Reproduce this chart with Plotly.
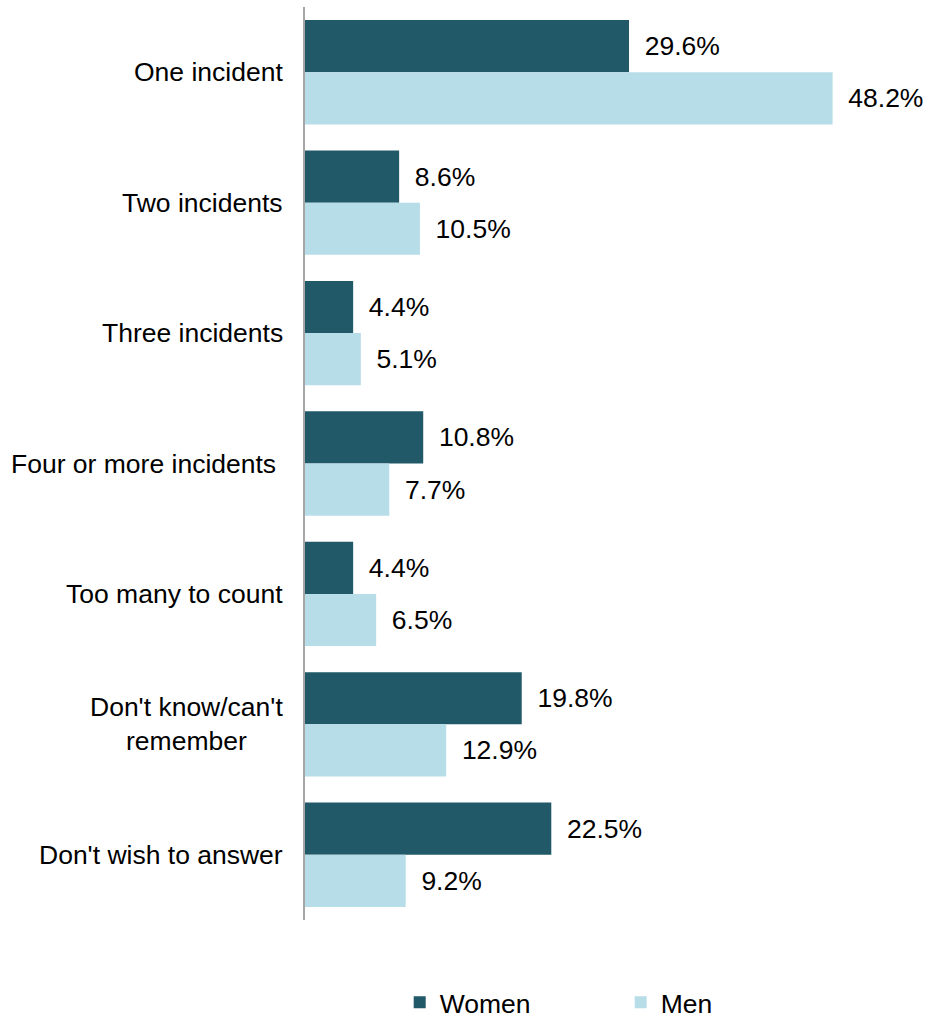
import plotly.graph_objects as go

categories = [
    "One incident",
    "Two incidents",
    "Three incidents",
    "Four or more incidents\u00a0",
    "Too many to count",
    "Don't know/can't<br>remember",
    "Don't wish to answer",
]
women = [29.6, 8.6, 4.4, 10.8, 4.4, 19.8, 22.5]
men = [48.2, 10.5, 5.1, 7.7, 6.5, 12.9, 9.2]

FONT = "Liberation Sans, Arial, sans-serif"
FS = 26.5

fig = go.Figure()
for name, vals, color in [("Women", women, "#215968"), ("Men", men, "#B7DEE8")]:
    fig.add_trace(go.Bar(
        name=name,
        y=categories,
        x=vals,
        orientation="h",
        marker=dict(color=color, line=dict(width=0)),
        text=[f"\u00a0\u2009{v:.1f}%" for v in vals],
        textposition="outside",
        constraintext="none",
        cliponaxis=False,
        textfont=dict(family=FONT, size=FS, color="#000000"),
    ))

# category labels as centred multi-line annotations left of the axis
for c in categories:
    fig.add_annotation(
        x=0, xref="paper", y=c, yref="y",
        text=c, showarrow=False,
        xanchor="right", yanchor="middle", align="center",
        xshift=-20,
        font=dict(family=FONT, size=FS, color="#000000"),
    )

fig.update_layout(
    width=927,
    height=1021,
    margin=dict(l=305, r=9, t=7, b=101, autoexpand=False),
    paper_bgcolor="white",
    plot_bgcolor="white",
    barmode="group",
    bargap=0.2,
    bargroupgap=0,
    showlegend=True,
    legend=dict(
        orientation="h",
        x=0.515, xanchor="center",
        y=0.018, yref="container", yanchor="middle",
        font=dict(family=FONT, size=FS, color="#000000"),
        entrywidth=176,
        traceorder="normal",
    ),
    xaxis=dict(
        range=[0, 56],
        showgrid=False, zeroline=False, showline=False,
        showticklabels=False, ticks="",
    ),
    yaxis=dict(
        type="category",
        categoryorder="array", categoryarray=categories,
        range=[6.5, -0.5],
        showgrid=False, zeroline=False,
        showline=True, linecolor="#A6A6A6", linewidth=2,
        showticklabels=False, ticks="",
    ),
)

fig.write_html("out.html")
